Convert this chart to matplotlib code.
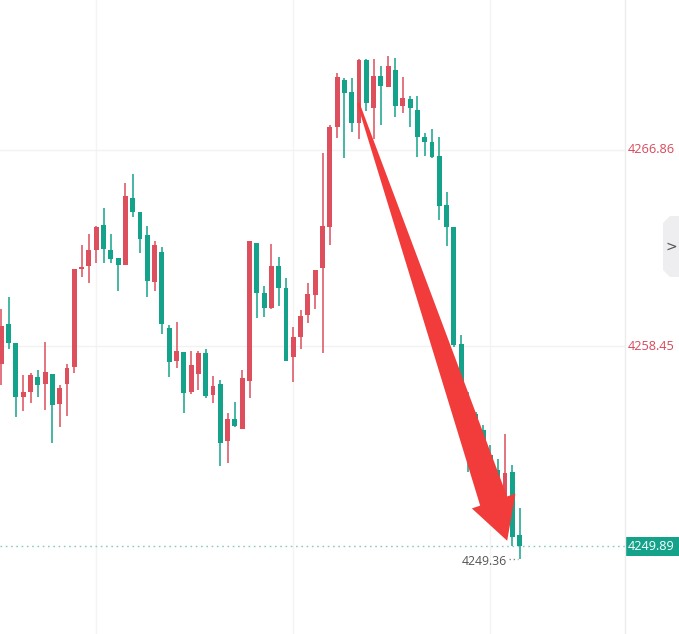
import numpy as np
import matplotlib
matplotlib.use("Agg")
import matplotlib.pyplot as plt
from matplotlib.patches import Polygon, Rectangle
from matplotlib import transforms

# candle data, oldest first
opens = [4257.70, 4259.41, 4258.60, 4256.29, 4256.50, 4257.14, 4256.84, 4257.27, 4255.99, 4256.84,
         4257.57, 4261.77, 4261.90, 4262.58, 4263.65, 4262.58, 4262.24, 4261.94, 4264.81, 4264.21,
         4263.22, 4261.21, 4262.49, 4259.24, 4257.83, 4258.21, 4256.50, 4257.27, 4258.17, 4256.37,
         4256.84, 4254.41, 4255.35, 4254.92, 4256.97, 4262.88, 4260.74, 4260.10, 4261.90, 4260.95,
         4258.00, 4258.86, 4259.80, 4260.65, 4261.81, 4263.56, 4267.84, 4269.86, 4269.34, 4268.02,
         4270.71, 4268.66, 4270.03, 4269.56, 4270.28, 4268.74, 4269.04, 4268.57, 4267.42, 4267.20,
         4266.60, 4264.51, 4263.56, 4258.56, 4255.73, 4255.56, 4254.88, 4253.81, 4253.16, 4251.75,
         4253.08, 4250.38]
highs = [4260.05, 4260.57, 4258.60, 4257.23, 4257.32, 4257.44, 4258.64, 4257.27, 4256.80, 4257.70,
         4261.77, 4262.79, 4263.27, 4263.61, 4264.38, 4263.27, 4262.24, 4265.45, 4265.83, 4264.21,
         4263.61, 4262.97, 4262.71, 4259.37, 4259.50, 4258.21, 4258.26, 4258.26, 4258.34, 4257.19,
         4257.02, 4255.60, 4256.07, 4257.44, 4262.97, 4262.88, 4261.04, 4262.84, 4262.28, 4261.38,
         4259.28, 4260.01, 4261.17, 4261.72, 4266.73, 4267.93, 4270.16, 4269.94, 4269.94, 4270.75,
         4270.75, 4270.75, 4270.46, 4270.88, 4270.80, 4269.98, 4269.17, 4269.17, 4267.59, 4267.76,
         4267.42, 4265.06, 4263.56, 4258.94, 4256.50, 4255.65, 4255.09, 4254.23, 4253.63, 4254.71,
         4253.38, 4251.54]
lows = [4256.80, 4258.34, 4255.43, 4255.69, 4256.03, 4256.29, 4255.73, 4254.32, 4255.00, 4255.48,
        4257.32, 4261.42, 4261.17, 4262.02, 4262.02, 4262.02, 4260.82, 4261.94, 4263.99, 4262.45,
        4260.57, 4260.82, 4258.98, 4257.14, 4257.53, 4255.60, 4256.42, 4256.59, 4256.25, 4256.03,
        4253.34, 4253.46, 4255.00, 4254.92, 4256.25, 4259.67, 4259.71, 4260.05, 4260.18, 4257.83,
        4256.93, 4258.34, 4259.46, 4260.05, 4258.17, 4262.79, 4267.37, 4266.52, 4267.63, 4267.33,
        4268.53, 4267.33, 4267.93, 4269.56, 4268.27, 4268.44, 4267.84, 4266.56, 4266.60, 4266.52,
        4263.86, 4262.75, 4258.43, 4255.52, 4253.08, 4253.81, 4252.95, 4252.31, 4251.67, 4251.75,
        4249.91, 4249.36]
closes = [4259.33, 4258.60, 4256.29, 4256.50, 4257.23, 4256.80, 4257.36, 4255.95, 4256.67, 4257.53,
          4261.77, 4261.85, 4262.58, 4263.56, 4262.62, 4262.20, 4261.94, 4264.89, 4264.21, 4263.05,
          4261.25, 4262.79, 4259.41, 4257.79, 4258.26, 4256.46, 4257.66, 4258.17, 4256.33, 4256.76,
          4254.32, 4255.35, 4255.05, 4257.10, 4262.97, 4260.74, 4260.10, 4261.90, 4260.95, 4257.83,
          4258.86, 4259.76, 4260.70, 4261.72, 4263.61, 4267.84, 4269.98, 4269.30, 4268.02, 4270.71,
          4268.87, 4270.03, 4269.60, 4270.46, 4268.74, 4269.09, 4268.66, 4267.42, 4267.20, 4266.56,
          4264.46, 4263.56, 4258.51, 4256.25, 4254.45, 4254.79, 4253.38, 4252.74, 4251.88, 4253.04,
          4250.30, 4249.89]

axis_labels = [4266.86, 4258.45]
last_price = 4249.89
low_label = 4249.36

# hand drawn arrow: from (candle index, price) to (candle index, price)
arrow_start = (48.9, 4268.87)
arrow_tip = (69.3, 4250.13)

UP = '#dd4f5c'
DOWN = '#14a38a'
ARROW = '#f23b3b'

W, H = 679, 634
fig = plt.figure(figsize=(W / 100, H / 100), dpi=100)
fig.patch.set_facecolor('white')
ax = fig.add_axes([0, 0, 625 / W, 1])
ax.set_xlim(-0.18, 85.44)
ax.set_ylim(4246.14, 4273.28)
ax.axis('off')

# grid
for g in [13, 40, 67]:
    ax.axvline(g, color='#f4f4f4', lw=1, zorder=0)
for p in axis_labels:
    ax.axhline(p, color='#f2f2f2', lw=1, zorder=0)

o = np.array(opens)
c = np.array(closes)
hi = np.array(highs)
lo = np.array(lows)
idx = np.arange(len(o))
cols = np.where(c >= o, UP, DOWN)

ax.vlines(idx, lo, hi, colors=cols, lw=1.1, zorder=2)
ax.bar(idx, np.maximum(np.abs(c - o), 0.03), bottom=np.minimum(o, c),
       width=0.68, color=cols, edgecolor='none', zorder=3)

# last price dotted line
ax.axhline(last_price, color='#86cbbf', lw=1, linestyle=(0, (1.2, 2.6)), zorder=1)

# low marker
k_low = int(np.argmin(lo))
ax.annotate(f'{low_label:.2f}', xy=(k_low, low_label), xytext=(-13, -3),
            textcoords='offset pixels', ha='right', va='center',
            fontsize=8.8, color='#555555', family='Open Sans')
ax.plot([k_low - 1.5, k_low - 0.25], [low_label, low_label], color='#888888',
        lw=1, linestyle=(0, (1, 2)), zorder=2)

# arrow polygon built in pixel space then mapped back to data
fig.canvas.draw()
S = ax.transData.transform(arrow_start)
T = ax.transData.transform(arrow_tip)
d = T - S
L = np.hypot(*d)
u = d / L
n = np.array([u[1], -u[0]])
head_len, head_hw = 42, 23
B = S + u * (L - head_len)
hw0, hwb = 1.2, 1.2 + 0.031 * (L - head_len)
pts = np.array([S + n * hw0, B + n * hwb, B + n * head_hw, T,
                B - n * head_hw, B - n * hwb, S - n * hw0])
pts = ax.transData.inverted().transform(pts)
ax.add_patch(Polygon(pts, closed=True, facecolor=ARROW, edgecolor='none',
                     zorder=5, clip_on=False))

# right price scale
bt = transforms.blended_transform_factory(fig.transFigure, ax.transData)
fig.add_artist(plt.Line2D([625 / W, 625 / W], [0, 1], color='#ececec', lw=1))
for p in axis_labels:
    fig.text(628 / W, p, f'{p:.2f}', transform=bt, ha='left', va='center',
             fontsize=9.2, color='#d9485a', family='Open Sans')

fig.add_artist(Rectangle((625 / W, 1 - 556 / H), 54 / W, 19 / H,
                         transform=fig.transFigure, facecolor=DOWN, edgecolor='none'))
fig.text(628 / W, last_price, f'{last_price:.2f}', transform=bt, ha='left',
         va='center', fontsize=9.2, color='white', family='Open Sans')

# collapse tab on right edge
tab = [(679, 216), (670, 216), (663, 223), (663, 270), (670, 277), (679, 277)]
tab = [(x / W, 1 - y / H) for x, y in tab]
fig.add_artist(Polygon(tab, closed=True, transform=fig.transFigure,
                       facecolor='#eeeef0', edgecolor='none'))
fig.text(671 / W, 1 - 247 / H, '>', ha='center', va='center', fontsize=10,
         color='#555555', family='DejaVu Sans')

fig.savefig('out.png', dpi=100)
